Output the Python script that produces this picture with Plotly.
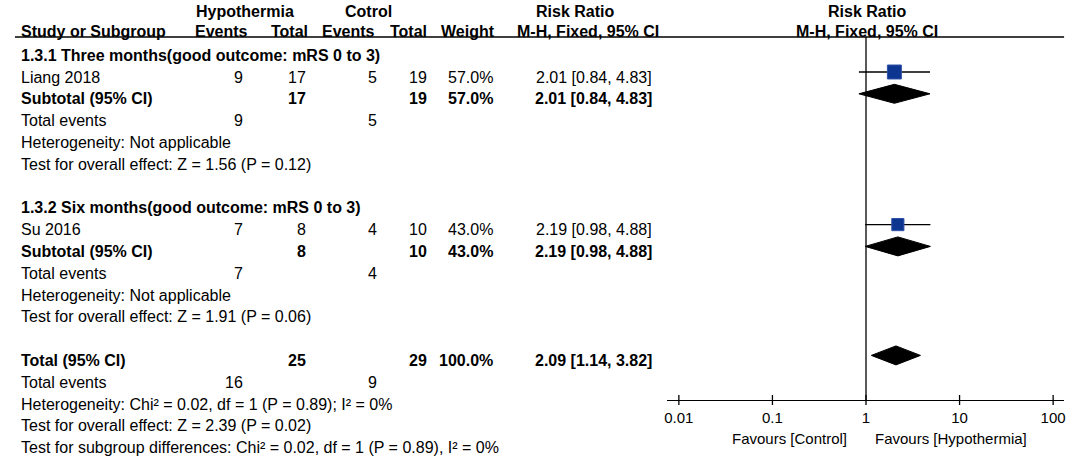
import math
import plotly.graph_objects as go

W, H = 1084, 457

# ---------------- data ----------------
studies = ["Liang 2018", "Su 2016"]
group_titles = ["1.3.1 Three months(good outcome: mRS 0 to 3)",
                "1.3.2 Six months(good outcome: mRS 0 to 3)"]
hypo_events = [9, 7]
hypo_total = [17, 8]
ctrl_events = [5, 4]
ctrl_total = [19, 10]
weights = [57.0, 43.0]
rr = [2.01, 2.19]
rr_lo = [0.84, 0.98]
rr_hi = [4.83, 4.88]

sub_rr = [2.01, 2.19]
sub_lo = [0.84, 0.98]
sub_hi = [4.83, 4.88]
group_het = ["Heterogeneity: Not applicable", "Heterogeneity: Not applicable"]
group_test = ["Test for overall effect: Z = 1.56 (P = 0.12)",
              "Test for overall effect: Z = 1.91 (P = 0.06)"]

total_hypo = 25
total_ctrl = 29
total_ev_hypo = 16
total_ev_ctrl = 9
total_weight = 100.0
total_rr, total_lo, total_hi = 2.09, 1.14, 3.82
overall_lines = ["Heterogeneity: Chi² = 0.02, df = 1 (P = 0.89); I² = 0%",
                 "Test for overall effect: Z = 2.39 (P = 0.02)",
                 "Test for subgroup differences: Chi² = 0.02, df = 1 (P = 0.89), I² = 0%"]

tick_vals = [0.01, 0.1, 1, 10, 100]
tick_text = ["0.01", "0.1", "1", "10", "100"]
favours = ["Favours [Control]", "Favours [Hypothermia]"]

# ---------------- layout helpers ----------------
FONT = "Liberation Sans, Arial, sans-serif"
FS = 16
PITCH = 21.8
MARK0 = 72.0      # marker row 0 (pixels from top)
TEXT0 = 77.0      # text row 0


def mrow(k):
    return MARK0 + PITCH * k


def trow(k):
    return TEXT0 + PITCH * k


def px(x):
    return x / W


X_LEFT = 17
X_EV1, X_TOT1, X_EV2, X_TOT2, X_W, X_RR = 242, 305, 377, 427, 493, 653
AX_X0, AX_X1, AX_ONE, DECADE = 667, 1066, 867, 94.0
AX_Y = 400
LINE_Y = 37

annotations = []


def txt(x, y, s, anchor="left", bold=False, size=FS):
    annotations.append(dict(
        x=px(x), y=y, xref="paper", yref="y", text=("<b>%s</b>" % s) if bold else s,
        showarrow=False, xanchor=anchor, yanchor="middle", borderpad=0,
        font=dict(family=FONT, size=size, color="#000")))


# headers
txt(243, 11, "Hypothermia", "center", True)
txt(367, 11, "Cotrol", "center", True)
txt(575, 11, "Risk Ratio", "center", True)
txt(868, 11, "Risk Ratio", "center", True)
txt(X_LEFT, 31, "Study or Subgroup", "left", True)
txt(247, 31, "Events", "right", True)
txt(307, 31, "Total", "right", True)
txt(375, 31, "Events", "right", True)
txt(427, 31, "Total", "right", True)
txt(495, 31, "Weight", "right", True)
txt(588, 31, "M-H, Fixed, 95% CI", "center", True)
txt(868, 31, "M-H, Fixed, 95% CI", "center", True)

fig = go.Figure()

study_rows = []
sub_rows = []
for g in range(2):
    base = 7 * g
    txt(X_LEFT, trow(base - 1), group_titles[g], "left", True)
    # study row
    k = base
    study_rows.append(k)
    txt(X_LEFT, trow(k), studies[g])
    txt(X_EV1, trow(k), str(hypo_events[g]), "right")
    txt(X_TOT1, trow(k), str(hypo_total[g]), "right")
    txt(X_EV2, trow(k), str(ctrl_events[g]), "right")
    txt(X_TOT2, trow(k), str(ctrl_total[g]), "right")
    txt(X_W, trow(k), "%.1f%%" % weights[g], "right")
    txt(X_RR, trow(k), "%.2f [%.2f, %.2f]" % (rr[g], rr_lo[g], rr_hi[g]), "right")
    # subtotal row
    k = base + 1
    sub_rows.append(k)
    txt(X_LEFT, trow(k), "Subtotal (95% CI)", "left", True)
    txt(X_TOT1, trow(k), str(hypo_total[g]), "right", True)
    txt(X_TOT2, trow(k), str(ctrl_total[g]), "right", True)
    txt(X_W, trow(k), "%.1f%%" % weights[g], "right", True)
    txt(X_RR, trow(k), "%.2f [%.2f, %.2f]" % (sub_rr[g], sub_lo[g], sub_hi[g]), "right", True)
    # total events / stats
    txt(X_LEFT, trow(base + 2), "Total events")
    txt(X_EV1, trow(base + 2), str(hypo_events[g]), "right")
    txt(X_EV2, trow(base + 2), str(ctrl_events[g]), "right")
    txt(X_LEFT, trow(base + 3), group_het[g])
    txt(X_LEFT, trow(base + 4), group_test[g])

# overall
KT = 13
txt(X_LEFT, trow(KT), "Total (95% CI)", "left", True)
txt(X_TOT1, trow(KT), str(total_hypo), "right", True)
txt(X_TOT2, trow(KT), str(total_ctrl), "right", True)
txt(X_W, trow(KT), "%.1f%%" % total_weight, "right", True)
txt(X_RR, trow(KT), "%.2f [%.2f, %.2f]" % (total_rr, total_lo, total_hi), "right", True)
txt(X_LEFT, trow(KT + 1), "Total events")
txt(X_EV1, trow(KT + 1), str(total_ev_hypo), "right")
txt(X_EV2, trow(KT + 1), str(total_ev_ctrl), "right")
for i, line in enumerate(overall_lines):
    txt(X_LEFT, trow(KT + 2 + i), line)

# favours labels
txt(849, 438, favours[0], "right", False, 15)
txt(875, 438, favours[1], "left", False, 15)

# ---------------- marks ----------------
BLUE = "#0c3690"
for g in range(2):
    y = mrow(study_rows[g])
    fig.add_trace(go.Scatter(x=[rr_lo[g], rr_hi[g]], y=[y, y], mode="lines",
                             line=dict(color="#000", width=1.3), hoverinfo="skip"))
    fig.add_trace(go.Scatter(x=[rr[g]], y=[y], mode="markers",
                             marker=dict(symbol="square", size=18.5 * math.sqrt(weights[g] / 100.0),
                                         color=BLUE, line=dict(color="#3050a8", width=1)),
                             hoverinfo="skip"))

HALF = 9.5


def diamond(est, lo, hi, y):
    fig.add_trace(go.Scatter(x=[lo, est, hi, est, lo], y=[y, y - HALF, y, y + HALF, y],
                             mode="lines", fill="toself", fillcolor="#000",
                             line=dict(color="#000", width=1), hoverinfo="skip"))


for g in range(2):
    diamond(sub_rr[g], sub_lo[g], sub_hi[g], mrow(sub_rows[g]))
diamond(total_rr, total_lo, total_hi, mrow(KT))

shapes = []
# header rule
shapes.append(dict(type="line", xref="paper", yref="y", x0=px(12), x1=px(AX_X1),
                   y0=LINE_Y, y1=LINE_Y, line=dict(color="#000", width=1.3)))
# no-effect line
shapes.append(dict(type="line", xref="x", yref="y", x0=1, x1=1, y0=LINE_Y, y1=AX_Y,
                   line=dict(color="#000", width=1.3)))
# tick marks crossing the axis
for tv in tick_vals:
    shapes.append(dict(type="line", xref="x", yref="y", x0=tv, x1=tv, y0=AX_Y - 5, y1=AX_Y + 5,
                       line=dict(color="#000", width=1.3)))

lo_edge = (AX_X0 - AX_ONE) / DECADE
hi_edge = (AX_X1 - AX_ONE) / DECADE

fig.update_layout(
    width=W, height=H, margin=dict(l=0, r=0, t=0, b=0),
    paper_bgcolor="white", plot_bgcolor="white", showlegend=False,
    annotations=annotations, shapes=shapes,
    xaxis=dict(type="log", domain=[px(AX_X0), px(AX_X1)], range=[lo_edge, hi_edge],
               anchor="free", position=(H - AX_Y) / H,
               showline=True, linecolor="#000", linewidth=1.3,
               ticks="", tickvals=tick_vals, ticktext=tick_text,
               tickfont=dict(family=FONT, size=15, color="#000"),
               ticklabelstandoff=4, showgrid=False, zeroline=False, fixedrange=True),
    yaxis=dict(range=[H, 0], domain=[0, 1], visible=False, showgrid=False,
               zeroline=False, fixedrange=True),
)

fig.write_html("out.html", config={"displayModeBar": False},
               post_script="document.body.style.margin='0px';document.body.style.overflow='hidden';")
